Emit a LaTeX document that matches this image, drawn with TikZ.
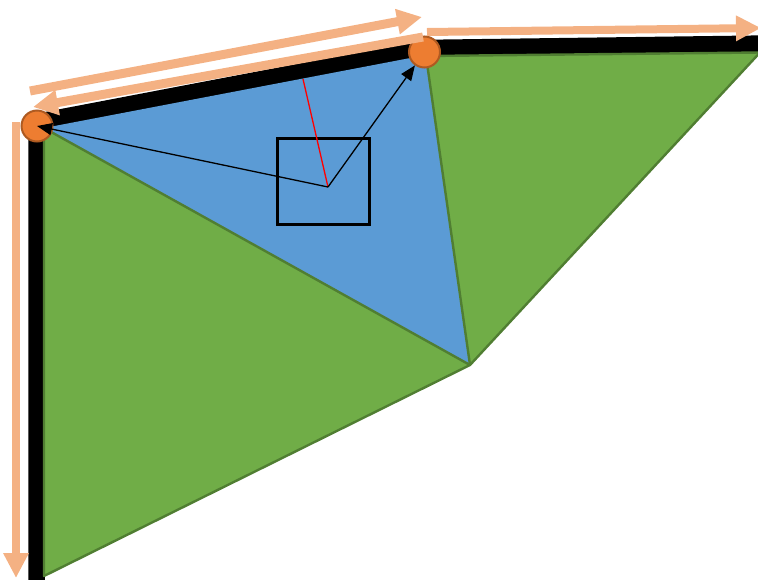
\documentclass[tikz,border=0pt]{standalone}
\usetikzlibrary{arrows.meta}
\definecolor{grn}{HTML}{70AD47}
\definecolor{grnline}{HTML}{507E32}
\definecolor{blu}{HTML}{5B9BD5}
\definecolor{org}{HTML}{ED7D31}
\definecolor{orgline}{HTML}{AE5A21}
\definecolor{lorg}{HTML}{F4B183}
\tikzset{
  greentri/.style={fill=grn, draw=grnline, line width=2.4pt, line join=round},
  bluetri/.style={fill=blu},
  edgeline/.style={line width=16.5pt, line join=miter},
  vertexdot/.style={circle, fill=org, draw=orgline, line width=2pt, minimum size=31pt, inner sep=0pt},
  ptr/.style={line width=1.3pt, -{Triangle[length=15pt,width=12pt]}},
  flow/.style={lorg, line width=9pt, -{Triangle[length=25pt,width=24pt]}},
}
\begin{document}
\begin{tikzpicture}[x=1pt,y=-1pt]
\useasboundingbox (0,0) rectangle (758,579);
\clip (0,0) rectangle (758,579);
% thick black boundary
\coordinate (e0) at (36.5,590);
\coordinate (e1) at (36.5,122);
\coordinate (e2) at (424,48);
\coordinate (e3) at (770,43.5);
\draw[edgeline] (e0) -- (e1) -- (e2) -- (e3);
% triangles
\coordinate (ta) at (44,128);
\coordinate (tb) at (426,55);
\coordinate (tb2) at (426,56);
\coordinate (tc) at (470,365);
\coordinate (td) at (760,52.5);
\coordinate (te) at (44,576);
\fill[bluetri] (ta) -- (tb) -- (tc) -- cycle;
\draw[greentri] (ta) -- (tc) -- (te) -- cycle;
\draw[greentri] (tb2) -- (td) -- (tc) -- cycle;
% box
\node[draw, line width=3pt, minimum width=92pt, minimum height=86pt, inner sep=0pt] (box) at (323.5,181.5) {};
% vertices
\node[vertexdot] (A) at (37,126) {};
\node[vertexdot] (B) at (424.5,52) {};
% center point and pointers
\coordinate (c) at (328,187);
\coordinate (r) at (303,79);
\draw[red, line width=1.3pt] (c) -- (r);
\draw[ptr] (c) -- (A.center);
\draw[ptr] (c) -- (B);
% orange flow arrows
\coordinate (f1s) at (30,91);
\coordinate (f1e) at (422,17);
\coordinate (f2s) at (423,37);
\coordinate (f2e) at (33,107);
\coordinate (f3s) at (16,122);
\coordinate (f3e) at (16,578);
\coordinate (f4s) at (427,32);
\coordinate (f4e) at (761,28);
\draw[flow] (f1s) -- (f1e);
\draw[flow] (f2s) -- (f2e);
\draw[flow, line width=8pt] (f3s) -- (f3e);
\draw[flow, line width=8pt] (f4s) -- (f4e);
\end{tikzpicture}
\end{document}
